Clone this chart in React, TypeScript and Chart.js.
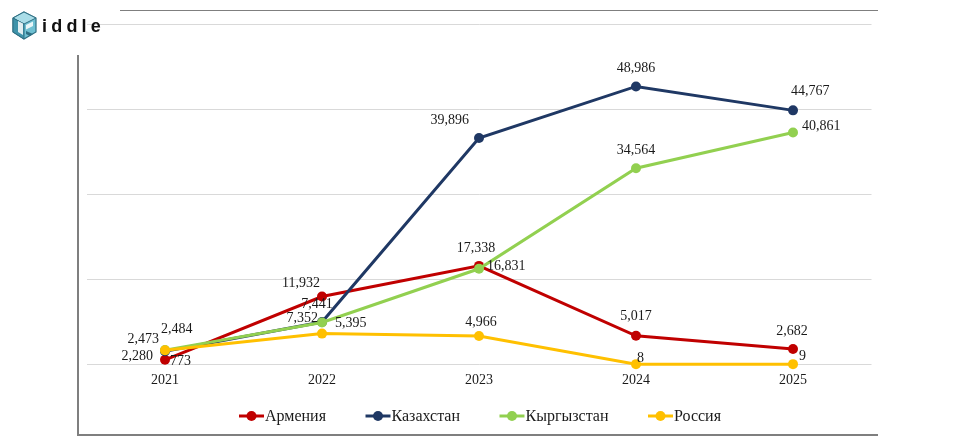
import React, { useEffect, useRef } from "react";
import { Chart, registerables } from "chart.js";

Chart.register(...registerables);

// ---------- data ----------
const categories = ["2021", "2022", "2023", "2024", "2025"];
const seriesNames = ["Армения", "Казахстан", "Кыргызстан", "Россия"];
const armenia = [773, 11932, 17338, 5017, 2682];
const kazakhstan = [2280, 7441, 39896, 48986, 44767];
const kyrgyzstan = [2484, 7352, 16831, 34564, 40861];
const russia = [2473, 5395, 4966, 8, 9];
const yTicks = [0, 15000, 30000, 45000, 60000];

// ---------- styles ----------
const colors = ["#C00000", "#1F3864", "#92D050", "#FFC000"];
const SERIF = "'Liberation Serif', 'Times New Roman', serif";
const TEXT = "#1a1a1a";

// label placement per dataset/point: [dx, dy, align]
type Place = [number, number, CanvasTextAlign];
const labelPlacement: Place[][] = [
  [[5, 2, "left"], [-2, -13, "right"], [-3, -18, "center"], [0, -19, "center"], [-1, -18, "center"]],
  [[-12, 5, "right"], [-5, -18, "center"], [-10, -18, "right"], [0, -18, "center"], [-2, -19, "left"]],
  [[-4, -21, "left"], [-4, -4, "right"], [8, -2, "left"], [0, -18, "center"], [9, -6, "left"]],
  [[-6, -11, "right"], [13, -10, "left"], [2, -14, "center"], [1, -6, "left"], [6, -8, "left"]],
];

const fmt = (v: number) => v.toLocaleString("en-US");

const dataLabelPlugin = {
  id: "pointLabels",
  afterDatasetsDraw(chart: any) {
    const ctx: CanvasRenderingContext2D = chart.ctx;
    ctx.save();
    ctx.font = `14px ${SERIF}`;
    ctx.fillStyle = TEXT;
    ctx.textBaseline = "middle";
    chart.data.datasets.forEach((ds: any, di: number) => {
      const meta = chart.getDatasetMeta(di);
      meta.data.forEach((pt: any, i: number) => {
        const [dx, dy, align] = labelPlacement[di][i];
        ctx.textAlign = align;
        ctx.fillText(fmt(ds.data[i]), pt.x + dx, pt.y + dy);
      });
    });
    ctx.restore();
  },
};

const legendPlugin = {
  id: "customLegend",
  afterDraw(chart: any) {
    const ctx: CanvasRenderingContext2D = chart.ctx;
    const markerW = 25;
    const gapText = 1;
    const gapItem = 39.5;
    const y = 416;
    ctx.save();
    ctx.font = `16px ${SERIF}`;
    const widths = chart.data.datasets.map((ds: any) => markerW + gapText + ctx.measureText(ds.label).width);
    const total = widths.reduce((a: number, b: number) => a + b, 0) + gapItem * (widths.length - 1);
    const ca = chart.chartArea;
    let x = (ca.left + ca.right) / 2 - total / 2 + 1;
    chart.data.datasets.forEach((ds: any, i: number) => {
      ctx.strokeStyle = ds.borderColor;
      ctx.lineWidth = 3;
      ctx.beginPath();
      ctx.moveTo(x, y);
      ctx.lineTo(x + markerW, y);
      ctx.stroke();
      ctx.fillStyle = ds.borderColor;
      ctx.beginPath();
      ctx.arc(x + markerW / 2, y, 5, 0, Math.PI * 2);
      ctx.fill();
      ctx.fillStyle = TEXT;
      ctx.textAlign = "left";
      ctx.textBaseline = "middle";
      ctx.fillText(ds.label, x + markerW + gapText, y + 1);
      x += widths[i] + gapItem;
    });
    ctx.restore();
  },
};

function Logo() {
  return (
    <div style={{ position: "absolute", left: 11, top: 11, display: "flex", alignItems: "center" }}>
      <svg width="27" height="30" viewBox="0 0 27 30">
        <polygon points="13,1 25,7 25,21 13,28 2,21 2,7" fill="#6fc0d2" stroke="#2e6f83" strokeWidth="1.2" />
        <polygon points="13,1 25,7 13,13 2,7" fill="#a9dde8" stroke="#2e6f83" strokeWidth="1" />
        <polygon points="2,7 13,13 13,28 2,21" fill="#3f93aa" stroke="#2e6f83" strokeWidth="1" />
        <polygon points="7,10 12,12.5 12,24 7,21" fill="#ffffff" opacity="0.85" />
        <polygon points="15,14 22,10.5 22,15 15,18.5" fill="#ffffff" opacity="0.85" />
        <polygon points="15,20 22,23 19,25 15,23" fill="#2e6f83" />
      </svg>
      <span
        style={{
          marginLeft: 4,
          fontFamily: "'Liberation Sans', Arial, sans-serif",
          fontSize: 18,
          fontWeight: 600,
          letterSpacing: 4.2,
          color: "#111",
          lineHeight: "20px",
        }}
      >
        iddle
      </span>
    </div>
  );
}

export default function App() {
  const canvasRef = useRef<HTMLCanvasElement | null>(null);

  useEffect(() => {
    if (!canvasRef.current) return;
    const series = [armenia, kazakhstan, kyrgyzstan, russia];
    const chart = new Chart(canvasRef.current, {
      type: "line",
      data: {
        labels: categories,
        datasets: series.map((d, i) => ({
          label: seriesNames[i],
          data: d,
          borderColor: colors[i],
          backgroundColor: colors[i],
          pointBackgroundColor: colors[i],
          pointBorderColor: colors[i],
          borderWidth: 3,
          pointRadius: 5,
          pointBorderWidth: 0,
          tension: 0,
          fill: false,
          clip: false,
          order: 3 - i,
        })),
      },
      options: {
        responsive: false,
        animation: false,
        devicePixelRatio: 1,
        layout: { padding: { left: 86.5, right: 85.5, top: 24, bottom: 48 } },
        plugins: {
          legend: { display: false },
          tooltip: { enabled: false },
        },
        scales: {
          x: {
            type: "category",
            offset: true,
            grid: { display: false, drawTicks: false },
            border: { display: false },
            ticks: { font: { family: SERIF, size: 14 }, color: TEXT, padding: 8 },
          },
          y: {
            min: 0,
            max: 60000,
            afterBuildTicks: (scale: any) => {
              scale.ticks = yTicks.map((v) => ({ value: v }));
            },
            ticks: { display: false },
            grid: { color: "#d9d9d9", lineWidth: 1, drawTicks: false },
            border: { display: false },
          },
        },
      },
      plugins: [dataLabelPlugin, legendPlugin],
    });
    return () => chart.destroy();
  }, []);

  return (
    <div style={{ position: "fixed", left: 0, top: 0, width: 957, height: 445, background: "#fff", overflow: "hidden" }}>
      <canvas ref={canvasRef} width={957} height={445} style={{ position: "absolute", left: 0, top: 0 }} />
      <div style={{ position: "absolute", left: 120, top: 10, width: 758, height: 1, background: "#7f7f7f" }} />
      <div style={{ position: "absolute", left: 77, top: 55, width: 2, height: 380, background: "#7f7f7f" }} />
      <div style={{ position: "absolute", left: 77, top: 434, width: 801, height: 1.5, background: "#7f7f7f" }} />
      <Logo />
    </div>
  );
}
